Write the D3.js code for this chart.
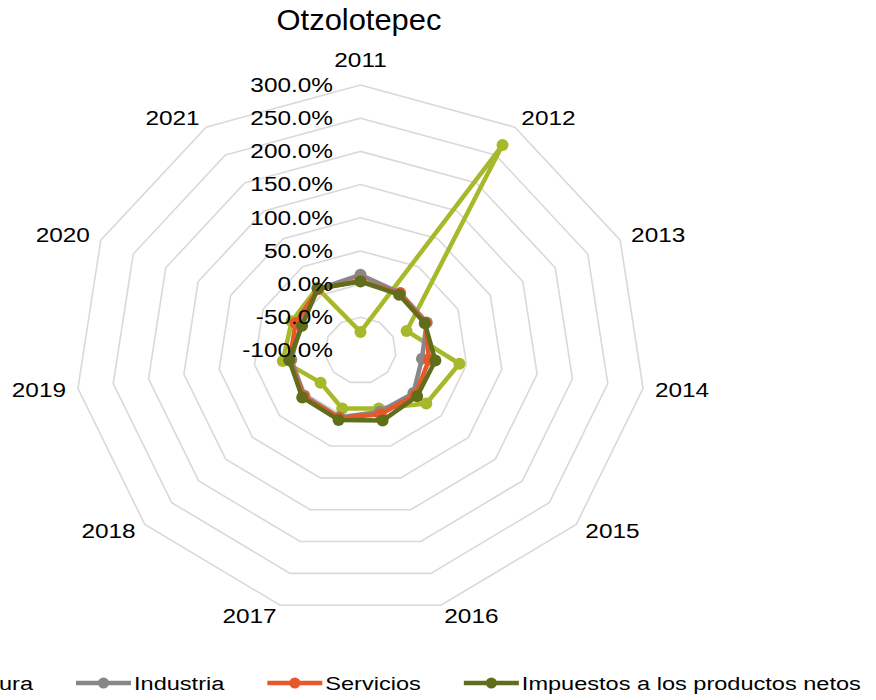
<!DOCTYPE html>
<html>
<head>
<meta charset="utf-8">
<script src="https://cdn.jsdelivr.net/npm/d3@7"></script>
<style>
  html, body { margin: 0; padding: 0; background: #fff; }
  svg { display: block; }
  text { font-family: "Liberation Sans", Arial, sans-serif; fill: #000; }
</style>
</head>
<body>
<svg id="chart" width="876" height="700"></svg>
<script>
// values (growth rates, %)
const years = ['2011', '2012', '2013', '2014', '2015', '2016', '2017', '2018', '2019', '2020', '2021'];
const agricultura = [-72, 268, -29, 40, 22, -9, -9, -26, 10, 6, 12];
const industria = [14, 3, 2, -13, -2, -4, 5, 4, -2, -8, 10];
const servicios = [5, 2, 0, -3, 2, 0, 6, 6, 0, 0, 10];
const impuestos = [4, 0, -1, 6, 5, 10, 9, 8, 1, -10, 11];
const seriesNames = ['Agricultura', 'Industria', 'Servicios', 'Impuestos a los productos netos'];
const seriesColors = ['#a7b92b', '#878787', '#e8572a', '#606d1b'];
const tickValues = [-100, -50, 0, 50, 100, 150, 200, 250, 300];

const svg = d3.select('#chart');
const cx = 360.5;
const cy = 350.5;
const rx = 285.5;
const ry = 265.5;
const sx = 1.25; // text in the picture is drawn a bit wide

const r = d3.scaleLinear().domain([-100, 300]).range([0, 1]);
const angle = d3.scalePoint().domain(years).range([0, 2 * Math.PI * 10 / 11]);

const px = (year, v) => cx + rx * r(v) * Math.sin(angle(year));
const py = (year, v) => cy - ry * r(v) * Math.cos(angle(year));

function stretchedText(sel, x, y, scale) {
  return sel.append('text')
    .attr('transform', `translate(${x},${y}) scale(${scale},1)`);
}

// grid rings
const ring = d3.line()
  .x((d) => px(d.year, d.v))
  .y((d) => py(d.year, d.v))
  .curve(d3.curveLinearClosed);

svg.append('g')
  .selectAll('path')
  .data(tickValues.filter((t) => t > -100))
  .join('path')
  .attr('d', (t) => ring(years.map((year) => ({ year, v: t }))))
  .attr('fill', 'none')
  .attr('stroke', '#d9d9d9')
  .attr('stroke-width', 1.6);

// series
const allSeries = [agricultura, industria, servicios, impuestos];
const seriesG = svg.append('g');

allSeries.forEach((values, i) => {
  const pts = years.map((year, j) => ({ year, v: values[j] }));
  seriesG.append('path')
    .attr('d', ring(pts))
    .attr('fill', 'none')
    .attr('stroke', seriesColors[i])
    .attr('stroke-width', 4.5)
    .attr('stroke-linejoin', 'round');
  seriesG.append('g')
    .selectAll('circle')
    .data(pts)
    .join('circle')
    .attr('cx', (d) => px(d.year, d.v))
    .attr('cy', (d) => py(d.year, d.v))
    .attr('r', 6)
    .attr('fill', seriesColors[i]);
});

// radial tick labels along the 2011 axis
tickValues.forEach((t) => {
  stretchedText(svg, 333, py(years[0], t), sx)
    .attr('text-anchor', 'end')
    .attr('dy', '0.35em')
    .attr('font-size', 19.5)
    .text(`${t.toFixed(1)}%`);
});

// category labels
years.forEach((year) => {
  const s = Math.sin(angle(year));
  const c = Math.cos(angle(year));
  const vx = px(year, 300);
  const vy = py(year, 300);
  let anchor = 'middle';
  let lx = vx;
  let ly = vy - 25;
  if (Math.abs(s) > 0.01) {
    anchor = s > 0 ? 'start' : 'end';
    lx = vx + 12 * s;
    ly = vy - 11 * c;
  }
  stretchedText(svg, lx, ly, sx)
    .attr('text-anchor', anchor)
    .attr('dy', '0.35em')
    .attr('font-size', 19.5)
    .text(year);
});

// title
stretchedText(svg, 359, 30, 1.03)
  .attr('text-anchor', 'middle')
  .attr('font-size', 30)
  .text('Otzolotepec');

// legend (wider than the chart, so the first entry is cut at the left)
const legendY = 683;
const lineLen = 55;
const legend = svg.append('g');
const items = seriesNames.map((name, i) => {
  const g = legend.append('g');
  g.append('line')
    .attr('x1', 0).attr('x2', lineLen)
    .attr('y1', legendY).attr('y2', legendY)
    .attr('stroke', seriesColors[i])
    .attr('stroke-width', 4.5);
  g.append('circle')
    .attr('cx', lineLen / 2)
    .attr('cy', legendY)
    .attr('r', 5.5)
    .attr('fill', seriesColors[i]);
  const label = stretchedText(g, lineLen + 3, legendY, 1.24)
    .attr('dy', '0.35em')
    .attr('font-size', 19)
    .text(name);
  return { g, w: label.node().getComputedTextLength() * 1.24 };
});

let lx = 76 - (lineLen + 3 + items[0].w + 43);
items.forEach((item) => {
  item.g.attr('transform', `translate(${lx},0)`);
  lx += lineLen + 3 + item.w + 43;
});
</script>
</body>
</html>
